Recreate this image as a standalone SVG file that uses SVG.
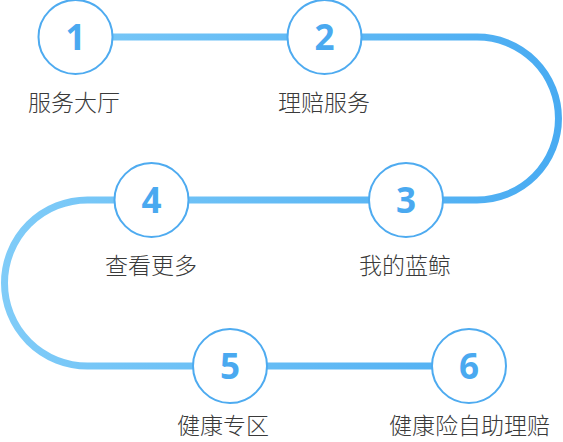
<svg xmlns="http://www.w3.org/2000/svg" width="563" height="442" viewBox="0 0 563 442">
<style>
.node circle{fill:#fff;stroke:#4eabf0;stroke-width:2}
.num{font-family:"Open Sans","Liberation Sans",sans-serif;font-weight:700;font-size:35px;fill:#4aa9f0;text-anchor:middle}
.lbl{font-family:"Noto Sans CJK SC","Noto Sans",sans-serif;font-size:23px;font-weight:300;fill:#3a3a3a;text-anchor:middle}
.conn path{fill:none;stroke:url(#g);stroke-width:7}
</style>
<defs>
<linearGradient id="g" gradientUnits="userSpaceOnUse" x1="0" y1="0" x2="563" y2="0">
<stop offset="0" stop-color="#80ccf8"/>
<stop offset="1" stop-color="#48abf2"/>
</linearGradient>
</defs>
<g id="connectors" class="conn">
<path d="M112,37 H288"/>
<path d="M361,37 H477 A81.5,81.5 0 0 1 477,200 H443"/>
<path d="M369,200 H188"/>
<path d="M115,200 H87.5 A83,83 0 0 0 87.5,366 H193"/>
<path d="M267,366 H432"/>
</g>
<g id="node1" class="node"><circle cx="75.5" cy="37" r="37"/><text class="num" x="75.5" y="50">1</text><text class="lbl" x="74" y="111">服务大厅</text></g>
<g id="node2" class="node"><circle cx="324.5" cy="37" r="37"/><text class="num" x="324.5" y="50">2</text><text class="lbl" x="324" y="111">理赔服务</text></g>
<g id="node3" class="node"><circle cx="406" cy="200" r="37"/><text class="num" x="406" y="213">3</text><text class="lbl" x="405" y="274">我的蓝鲸</text></g>
<g id="node4" class="node"><circle cx="151.5" cy="200" r="37"/><text class="num" x="151.5" y="213">4</text><text class="lbl" x="151" y="274">查看更多</text></g>
<g id="node5" class="node"><circle cx="230" cy="366" r="37"/><text class="num" x="230" y="379">5</text><text class="lbl" x="223" y="434">健康专区</text></g>
<g id="node6" class="node"><circle cx="469" cy="366" r="37"/><text class="num" x="469" y="379">6</text><text class="lbl" x="469.5" y="434">健康险自助理赔</text></g>
</svg>
